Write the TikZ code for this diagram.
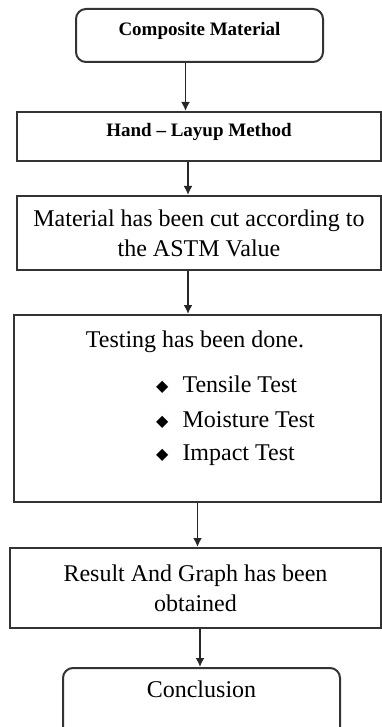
\documentclass[tikz,border=0pt]{standalone}
\usepackage{fontspec}
\setmainfont{Liberation Serif}
\newfontfamily\dejavufont{DejaVu Sans}
\usepackage{tikz}
\usetikzlibrary{arrows.meta, positioning}
\newcommand{\diamitem}{\raisebox{1pt}{\dejavufont\fontsize{16}{16}\selectfont ◆}}
\tikzset{
    roundnode/.style = {draw=black!80, rectangle, rounded corners=10pt, line width=2pt, 
      inner sep = 0em, node distance=0em},
    rectanglenode/.style = {draw=black!80, rectangle, line width=2pt, inner sep = 0em, node distance=0em},
    textnode/.style  = {draw=none, fill=none, rectangle, inner sep = 0em, node distance=0em},
    boldfont/.style = {font=\bfseries\fontsize{19}{24}\selectfont},
    bigfont/.style = {font=\fontsize{24}{30}\selectfont},
    connect/.style = {black!85, line width=1.8pt, -{Latex[length=9pt,width=9pt]}},
    every text node part/.style={align=center}
}
\begin{document}
\begin{tikzpicture}[x=1pt, y=1pt]
    \useasboundingbox (0,0) rectangle (382,-727);

    \node [name=comp, roundnode, boldfont, minimum width=247pt, minimum height=53pt, 
        text height=13pt, text depth=12pt] 
        at (199.5,-35.5) {Composite Material};

    \node [name=hand, rectanglenode, boldfont, minimum width=364pt, minimum height=49pt, 
        text height=13pt, text depth=12pt, 
        below of = comp, xshift=-0.5pt, yshift=-101pt] {Hand -- Layup Method};

    \node [name=cut, rectanglenode, bigfont, minimum width=364pt, minimum height=74pt, 
        below of = comp, xshift=-0.5pt, yshift=-197.5pt] {Material has been cut according to\\the ASTM Value};

    \node [name=test, rectanglenode, minimum width=367pt, minimum height=187pt, 
        below of = comp, xshift=-2pt, yshift=-373pt] {};
    \node [name=testhead, textnode, bigfont, 
        below of = comp, xshift=-4.5pt, yshift=-306.5pt] {Testing has been done.};
    \node [name=testlist, textnode, bigfont, 
        below of = comp, anchor=west, xshift=-43.5pt, yshift=-384.5pt] 
        {\begin{tabular}{@{}l@{\hspace{14pt}}l@{}}
          \diamitem & Tensile Test\\[5pt]
          \diamitem & Moisture Test\\[3pt]
          \diamitem & Impact Test
        \end{tabular}};

    \node [name=result, rectanglenode, bigfont, minimum width=371pt, minimum height=80pt, 
        below of = comp, xshift=-4pt, yshift=-552.5pt] {Result And Graph has been\\obtained};

    \node [name=concl, roundnode, bigfont, minimum width=277pt, minimum height=90pt, 
        text height=16pt, text depth=48pt, 
        below of = comp, xshift=2pt, yshift=-677.5pt] {Conclusion};

    \draw [connect] ([xshift=-14pt]comp.south) -- ([xshift=-14pt]comp.south |- hand.north);
    \draw [connect] ([xshift=-11pt]hand.south) -- ([xshift=-11pt]hand.south |- cut.north);
    \draw [connect] ([xshift=-11pt]cut.south) -- ([xshift=-11pt]cut.south |- test.north);
    \draw [connect] (test.south) -- (test.south |- result.north);
    \draw [connect] ([xshift=4.5pt]result.south) -- ([xshift=4.5pt]result.south |- concl.north);
\end{tikzpicture}
\end{document}
